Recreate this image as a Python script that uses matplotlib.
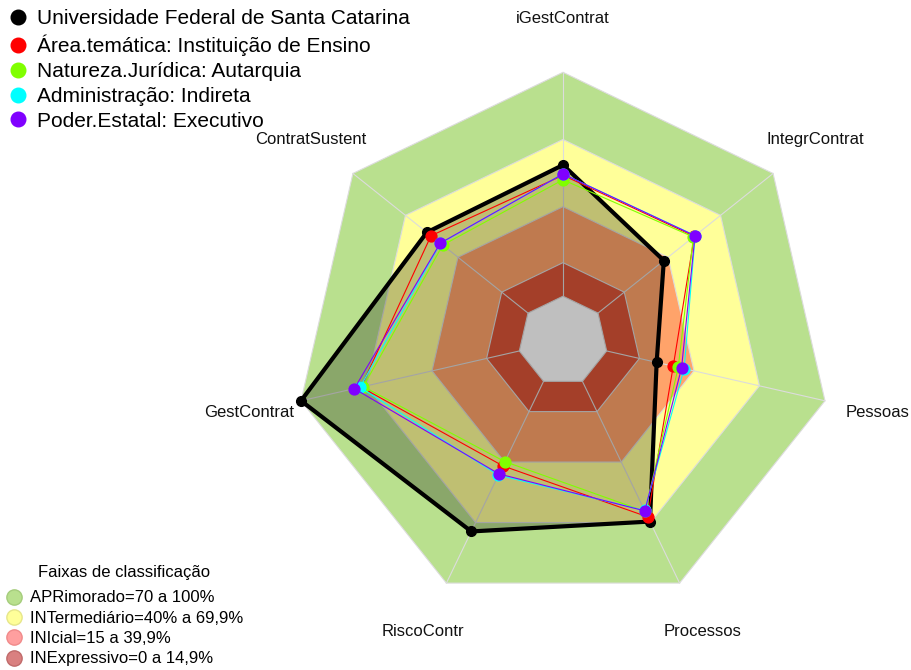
import numpy as np
import matplotlib
matplotlib.use("Agg")
import matplotlib.pyplot as plt
from matplotlib.lines import Line2D
from matplotlib.patches import Polygon

plt.rcParams["font.family"] = ["Liberation Sans", "DejaVu Sans"]

# Dimensões avaliadas (sentido horário a partir do topo)
eixos = ["iGestContrat", "IntegrContrat", "Pessoas", "Processos",
         "RiscoContr", "GestContrat", "ContratSustent"]

# Índices (%) por dimensão
ufsc = [58.6, 37.6, 22.9, 69.5, 74.4, 100.0, 57.8]
area_tematica = [54.0, 55.0, 30.5, 67.2, 41.9, 72.5, 55.4]
natureza_juridica = [52.0, 54.5, 32.8, 64.5, 39.8, 71.5, 48.7]
administracao = [54.6, 55.5, 35.5, 64.0, 46.5, 73.0, 50.0]
poder_estatal = [54.6, 55.4, 34.3, 64.2, 45.9, 75.6, 50.1]

series = [ufsc, area_tematica, natureza_juridica, administracao, poder_estatal]
series_nomes = ["Universidade Federal de Santa Catarina",
                "Área.temática: Instituição de Ensino",
                "Natureza.Jurídica: Autarquia",
                "Administração: Indireta",
                "Poder.Estatal: Executivo"]
series_cores = ["#000000", "#FF0000", "#80FF00", "#00FFFF", "#8000FF"]

# Faixas de classificação
faixas_titulo = "Faixas de classificação"
faixas_nomes = ["APRimorado=70 a 100%", "INTermediário=40% a 69,9%",
                "INIcial=15 a 39,9%", "INExpressivo=0 a 14,9%"]
faixas_limites = [100, 70, 40, 15, 0]
faixas_cores = ["#B9E08E", "#FFFF99", "#FFA36A", "#DC5538", "#FFFFFF"]
faixas_legenda_cores = ["#B9E08E", "#FFFF99", "#FF9F9F", "#D98080"]
faixas_legenda_bordas = ["#A5CC7C", "#E6E68A", "#F08A8A", "#C06A6A"]

n = len(eixos)
ang = np.deg2rad(np.arange(n) * 360.0 / n)


def raio(v):
    # centro deslocado: 0% corresponde a 1/6 do raio externo
    return (1 + 5 * np.asarray(v, dtype=float) / 100.0) / 6.0


def xy(v):
    r = raio(v)
    return r * np.sin(ang), r * np.cos(ang)


W, H = 912, 670
fig = plt.figure(figsize=(W / 100, H / 100), dpi=100)
ax = fig.add_axes([0, 0, 1, 1])
R, cx, cy = 268.7, 563.0, 341.0
ax.set_xlim(-cx / R, (W - cx) / R)
ax.set_ylim(-(H - cy) / R, cy / R)
ax.set_aspect("equal")
ax.axis("off")

# faixas de fundo (heptágonos empilhados)
for lim, cor in zip(faixas_limites, faixas_cores):
    x, y = xy([lim] * n)
    ax.add_patch(Polygon(np.column_stack([x, y]), closed=True, fc=cor,
                         ec="#DCDCDC", lw=0.8, zorder=1))

# raios dos eixos
r0, r1 = raio(0), raio(100)
for a in ang:
    ax.plot([r0 * np.sin(a), r1 * np.sin(a)], [r0 * np.cos(a), r1 * np.cos(a)],
            color="#DCDCDC", lw=0.8, zorder=2)

# preenchimento translúcido da instituição
x, y = xy(ufsc)
ax.fill(x, y, color=(0, 0, 0, 0.25), lw=0, zorder=3)

# séries
for i, (vals, cor) in enumerate(zip(series, series_cores)):
    x, y = xy(vals)
    lw = 3.0 if i == 0 else 0.8
    ms = 7.0 if i == 0 else 7.8
    ax.plot(np.r_[x, x[:1]], np.r_[y, y[:1]], color=cor, lw=lw, zorder=4 + i)
    ax.plot(x, y, ls="none", marker="o", ms=ms, mfc=cor, mec=cor, zorder=4 + i)

# rótulos dos eixos
for nome, a in zip(eixos, ang):
    ax.text(1.2 * np.sin(a), 1.2 * np.cos(a), nome, ha="center", va="center",
            fontsize=12, color="#111111")

# legenda das séries
h1 = [Line2D([], [], ls="none", marker="o", ms=10.5, mfc=c, mec=c)
      for c in series_cores]
fig.legend(h1, series_nomes, loc="upper left",
           bbox_to_anchor=(7.5 / W, 1 - 9.5 / H), frameon=False,
           fontsize=15, handlelength=1.0, handletextpad=0.4,
           labelspacing=0.285, borderpad=0, borderaxespad=0)

# legenda das faixas
h2 = [Line2D([], [], ls="none", marker="o", ms=11, mfc=c, mec=e, mew=1.0)
      for c, e in zip(faixas_legenda_cores, faixas_legenda_bordas)]
fig.legend(h2, faixas_nomes, loc="lower left",
           bbox_to_anchor=(6.5 / W, 3.5 / H), frameon=False,
           fontsize=12, handlelength=0.9, handletextpad=0.5,
           labelspacing=0.32, borderpad=0, borderaxespad=0)
fig.text(124 / W, 1 - 572 / H, faixas_titulo, ha="center", va="center",
         fontsize=12)

fig.savefig("out.png", dpi=100)
